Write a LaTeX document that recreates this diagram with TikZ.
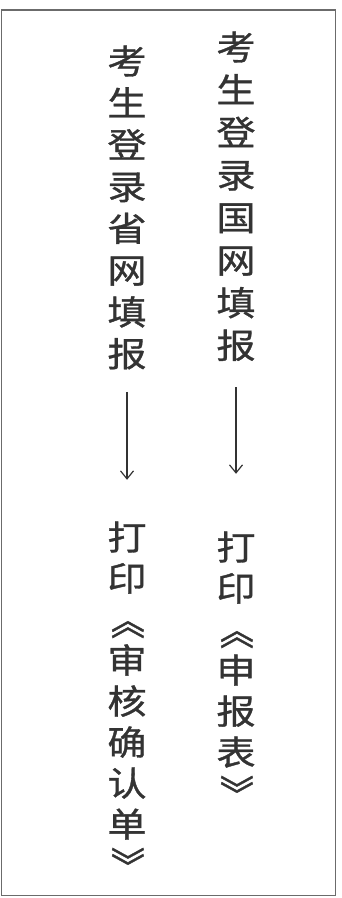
\documentclass[tikz,border=0pt]{standalone}
\usepackage{fontspec}
\newfontfamily\cjk[FakeStretch=1.15,FakeBold=1]{Noto Sans CJK SC}
\usepackage{tikz}
\usetikzlibrary{arrows.meta,positioning}

\definecolor{mo}{gray}{0.2}
\definecolor{kuang}{gray}{0.42}

\tikzset{
  zi/.style={font=\cjk\fontsize{34}{34}\selectfont, text=mo,
    inner sep=0pt, text height=29pt, text depth=5pt},
  kuo/.style={zi, rotate=-90},
  jt/.style={draw=mo, line width=1.2pt, -{Straight Barb[length=8pt,width=13pt]}}
}

\begin{document}
\begin{tikzpicture}[x=1pt,y=-1pt]
      \useasboundingbox (0,0) rectangle (342,898);
      \draw[kuang, line width=1.5pt] (1.5,10) rectangle (335.5,895.5);

      % right column
      \foreach \c [count=\i] in {考,生,登,录,国,网,填,报}
        \node[zi] (gw\i) at (236,{48+42.6*(\i-1)}) {\c};
      \foreach \c [count=\i] in {打,印}
        \node[zi] (gwp\i) at (236,{548+41*(\i-1)}) {\c};
      \node[kuo] (gwp3) at (236,630) {《};
      \foreach \c [count=\i from 4] in {申,报,表}
        \node[zi] (gwp\i) at (236,{548+41*(\i-1)}) {\c};
      \node[kuo] (gwp7) at (236,794) {》};

      % left column
      \foreach \c [count=\i] in {考,生,登,录,省,网,填,报}
        \node[zi] (sw\i) at (127,{62+41.8*(\i-1)}) {\c};
      \foreach \c [count=\i] in {打,印}
        \node[zi] (swp\i) at (127,{538+41*(\i-1)}) {\c};
      \node[kuo] (swp3) at (127,620) {《};
      \foreach \c [count=\i from 4] in {审,核,确,认,单}
        \node[zi] (swp\i) at (127,{538+41*(\i-1)}) {\c};
      \node[kuo] (swp9) at (127,866) {》};

      \draw[jt, shorten <=24pt, shorten >=57pt] (gw8.south) -- (gwp1.north);
      \draw[jt, shorten <=20pt, shorten >=41pt] (sw8.south) -- (swp1.north);

    \end{tikzpicture}
\end{document}
